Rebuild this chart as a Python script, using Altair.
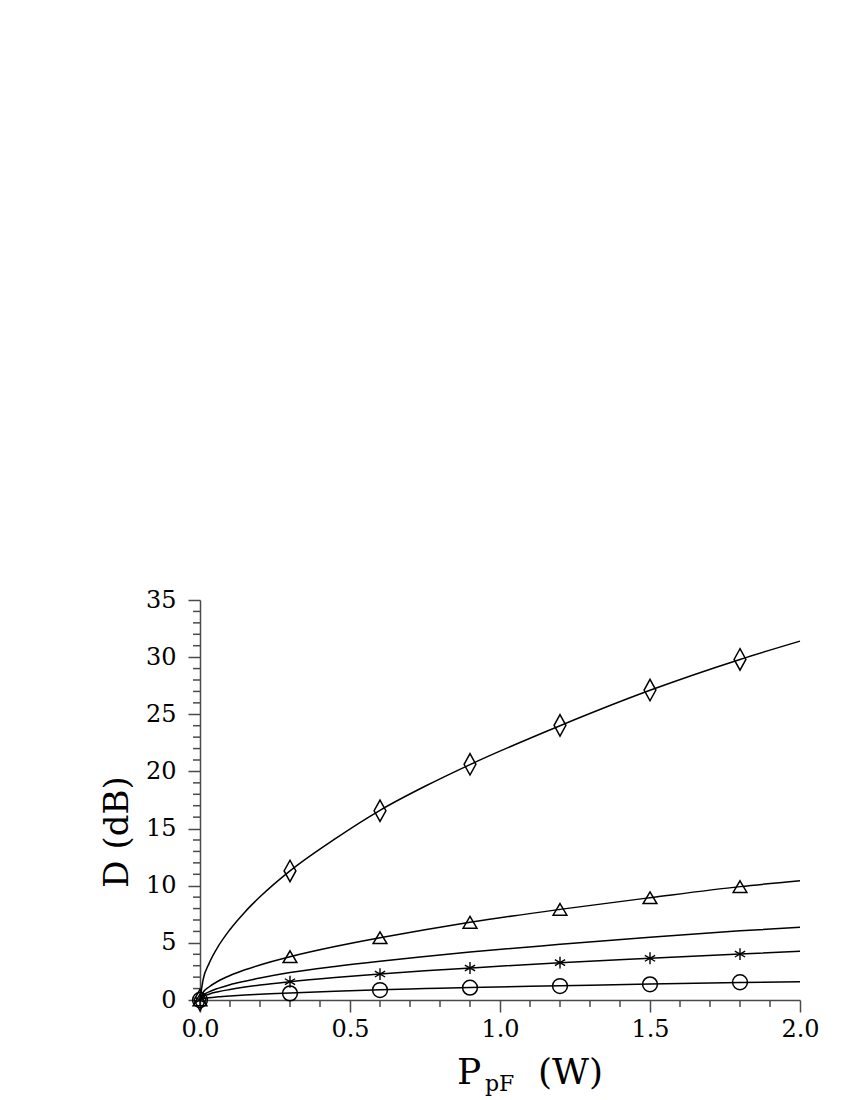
import altair as alt
import pandas as pd

# ---- data ----
curve_x = [0, 0.01, 0.03, 0.06, 0.1, 0.15, 0.2, 0.3, 0.45, 0.6, 0.75, 0.9, 1.2, 1.5, 1.8, 2.0]
curve_diamond = [0, 1.74, 3.18, 4.66, 6.17, 7.71, 9.03, 11.3, 14.1, 16.6, 18.7, 20.6, 24.0, 27.1, 29.8, 31.4]
curve_triangle = [0, 0.64, 1.14, 1.64, 2.14, 2.64, 3.07, 3.79, 4.68, 5.45, 6.15, 6.8, 7.93, 8.95, 9.92, 10.44]
curve_plain = [0, 0.41, 0.71, 1.02, 1.34, 1.64, 1.92, 2.4, 2.94, 3.4, 3.81, 4.2, 4.87, 5.5, 6.05, 6.36]
curve_star = [0, 0.29, 0.51, 0.72, 0.92, 1.13, 1.31, 1.6, 1.96, 2.27, 2.55, 2.8, 3.27, 3.65, 4.02, 4.26]
curve_circle = [0, 0.12, 0.2, 0.28, 0.36, 0.44, 0.5, 0.62, 0.77, 0.9, 1.0, 1.1, 1.25, 1.4, 1.53, 1.6]

marker_x = [0, 0.3, 0.6, 0.9, 1.2, 1.5, 1.8]
pts_diamond = [0, 11.29, 16.56, 20.62, 24.03, 27.12, 29.8]
pts_triangle = [0, 3.79, 5.45, 6.8, 7.93, 8.95, 9.92]
pts_star = [0, 1.6, 2.27, 2.8, 3.27, 3.65, 4.02]
pts_circle = [0, 0.58, 0.87, 1.08, 1.22, 1.37, 1.55]

x_major = [0.0, 0.5, 1.0, 1.5, 2.0]
x_minor = [0.1, 0.2, 0.3, 0.4, 0.6, 0.7, 0.8, 0.9, 1.1, 1.2, 1.3, 1.4, 1.6, 1.7, 1.8, 1.9]
y_major = [0, 5, 10, 15, 20, 25, 30, 35]
y_minor = [v for v in range(36) if v % 5 != 0]

FONT = "DejaVu Serif"
AX = "#4a4a4a"

curves = []
for name, vals in [("diamond", curve_diamond), ("triangle", curve_triangle), ("plain", curve_plain),
                   ("star", curve_star), ("circle", curve_circle)]:
    for xv, yv in zip(curve_x, vals):
        curves.append({"series": name, "P": xv, "D": yv})
curves = pd.DataFrame(curves)

xs = alt.Scale(domain=[0, 2], nice=False, zero=False)
ys = alt.Scale(domain=[0, 35], nice=False)

xaxis = alt.Axis(values=x_major, format=".1f", title=None, grid=False, tickSize=12, labelPadding=5,
                 labelFont=FONT, labelFontSize=24, labelColor="black", domainColor=AX, tickColor=AX,
                 domainWidth=1.5, tickWidth=1.5, labelFlush=False)
yaxis = alt.Axis(values=y_major, format="d", title=None, grid=False, tickSize=12, labelPadding=12,
                 labelFont=FONT, labelFontSize=24, labelColor="black", domainColor=AX, tickColor=AX,
                 domainWidth=1.5, tickWidth=1.5)

lines = alt.Chart(curves).mark_line(color="black", strokeWidth=1.5, interpolate="monotone").encode(
    x=alt.X("P:Q", scale=xs, axis=xaxis),
    y=alt.Y("D:Q", scale=ys, axis=yaxis),
    detail="series:N",
)

def markers(vals, shape, size, sw=1.5):
    df = pd.DataFrame({"P": marker_x, "D": vals})
    return alt.Chart(df).mark_point(shape=shape, size=size, filled=False, color="black",
                                    strokeWidth=sw, opacity=1).encode(
        x=alt.X("P:Q", scale=xs), y=alt.Y("D:Q", scale=ys))

diamond_path = "M0,-1L0.55,0L0,1L-0.55,0Z"
triangle_path = "M0,-0.85L1,0.85L-1,0.85Z"
star_path = "M0,-1L0,1M-0.87,-0.5L0.87,0.5M-0.87,0.5L0.87,-0.5"

m_d = markers(pts_diamond, diamond_path, 460)
m_t = markers(pts_triangle, triangle_path, 190)
m_s = markers(pts_star, star_path, 140, 1.4)
m_c = markers(pts_circle, "circle", 220)

ymin = alt.Chart(pd.DataFrame({"v": y_minor})).mark_rule(color=AX, strokeWidth=1.5).encode(
    y=alt.Y("v:Q", scale=ys), x=alt.value(-7), x2=alt.value(0))
xmin = alt.Chart(pd.DataFrame({"v": x_minor})).mark_rule(color=AX, strokeWidth=1.5).encode(
    x=alt.X("v:Q", scale=xs), y=alt.value(400), y2=alt.value(407))

def label(txt, x, y, size, angle=0, align="center"):
    return alt.Chart(pd.DataFrame({"t": [txt]})).mark_text(
        font=FONT, fontSize=size, color="black", angle=angle, align=align, baseline="alphabetic"
    ).encode(text="t:N", x=alt.value(x), y=alt.value(y))

ytitle = label("D  (dB)", -72, 232, 34, angle=270)
xt1 = label("P", 257, 484, 36, align="left")
xt2 = label("pF", 285, 491, 22, align="left")
xt3 = label("(W)", 338, 484, 36, align="left")

chart = alt.layer(ymin, xmin, lines, m_d, m_t, m_s, m_c, ytitle, xt1, xt2, xt3).properties(
    width=600, height=400,
    autosize=alt.AutoSizeParams(type="none"),
    padding={"left": 192, "top": 592, "right": 42, "bottom": 98},
).configure_view(stroke=None)

chart.save("out.html", embed_options={"renderer": "svg", "actions": False})
